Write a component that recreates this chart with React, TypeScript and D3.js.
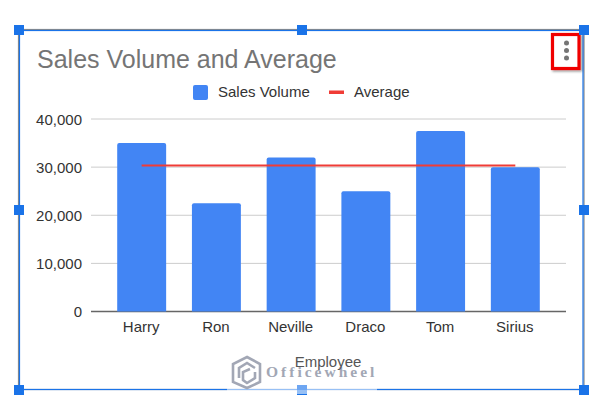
import * as d3 from 'd3';

const employees = ['Harry', 'Ron', 'Neville', 'Draco', 'Tom', 'Sirius'];
const salesVolume = [35000, 22500, 32000, 25000, 37500, 30000];
const average = [30333, 30333, 30333, 30333, 30333, 30333];
const yTicks = [0, 10000, 20000, 30000, 40000];

const FONT = '"Liberation Sans", Arial, sans-serif';
const BLUE = '#4285f4';
const RED = '#f03c36';
const HANDLE = '#1a73e8';

const width = 604,
    height = 410;

const PLOT = { left: 91, right: 566, top: 119, bottom: 311.5 };

// corner and middle handles of the selected chart frame
const handleXs = [19, 302, 584];
const handleYs = [30, 210, 390];

export default function App() {
    const xScale = d3
        .scaleBand()
        .domain(employees)
        .range([104.5, 552.5])
        .paddingInner(0.345)
        .paddingOuter(0.17);
    const yScale = d3.scaleLinear().domain([0, 40000]).range([PLOT.bottom, PLOT.top]);
    const xCenter = (name: string) => (xScale(name) ?? 0) + xScale.bandwidth() / 2;

    // Build the line
    const linePath = d3
        .line<number>()
        .x((_, i) => xCenter(employees[i]))
        .y((d) => yScale(d))(average);

    const format = d3.format(',');

    return (
        <svg
            width={width}
            height={height}
            style={{ position: 'absolute', left: 0, top: 0, background: '#fff' }}
            fontFamily={FONT}
        >
            <defs>
                <filter id="boxShadow" x="-30%" y="-30%" width="170%" height="170%">
                    <feDropShadow dx="1.5" dy="1.5" stdDeviation="1" floodColor="#000" floodOpacity="0.4" />
                </filter>
            </defs>

            {/* chart frame */}
            <rect x={18.5} y={29.5} width={565.5} height={360} fill="none" stroke="#8a8a8a" strokeWidth={1.2} />
            <rect x={19.5} y={30.5} width={563.5} height={359} fill="none" stroke={HANDLE} strokeWidth={1.2} />

            <text x={37} y={68} fontSize={25} fill="#757575">
                Sales Volume and Average
            </text>

            {/* legend */}
            <rect x={193} y={85} width={15} height={15} rx={2} fill={BLUE} />
            <text x={218} y={97} fontSize={15} fill="#333">
                Sales Volume
            </text>
            <rect x={329} y={90.5} width={15} height={3.5} fill={RED} />
            <text x={354} y={97} fontSize={15} fill="#333">
                Average
            </text>

            {/* grid and y labels */}
            {yTicks.map((t) => (
                <g key={t}>
                    <line
                        x1={PLOT.left}
                        x2={PLOT.right}
                        y1={yScale(t)}
                        y2={yScale(t)}
                        stroke={t === 0 ? '#666' : '#ccc'}
                        strokeWidth={t === 0 ? 1.3 : 1}
                    />
                    <text x={82} y={yScale(t) + 5.5} textAnchor="end" fontSize={15} fill="#333">
                        {format(t)}
                    </text>
                </g>
            ))}

            {/* bars */}
            {employees.map((name, i) => {
                const x = xScale(name) ?? 0;
                const y = yScale(salesVolume[i]);
                const w = xScale.bandwidth();
                const base = yScale(0);
                return (
                    <path
                        key={name}
                        d={`M${x},${base}V${y + 2}Q${x},${y} ${x + 2},${y}H${x + w - 2}Q${x + w},${y} ${x + w},${y + 2}V${base}Z`}
                        fill={BLUE}
                    />
                );
            })}

            {linePath && <path d={linePath} fill="none" stroke={RED} strokeWidth={2} />}

            {employees.map((name) => (
                <text key={name} x={xCenter(name) - 0.5} y={332} textAnchor="middle" fontSize={15} fill="#333">
                    {name}
                </text>
            ))}

            {/* kebab menu with the red callout */}
            <rect
                x={552.5}
                y={34.5}
                width={26.5}
                height={34}
                fill="#fff"
                stroke="#f00000"
                strokeWidth={3.2}
                filter="url(#boxShadow)"
            />
            {[43, 50.5, 58].map((cy) => (
                <circle key={cy} cx={566.5} cy={cy} r={2.5} fill="#757575" />
            ))}

            {/* handles */}
            {handleYs.map((hy, row) =>
                handleXs
                    .filter((_, col) => !(row === 1 && col === 1))
                    .map((hx) => <rect key={`${hx}-${hy}`} x={hx - 5} y={hy - 5} width={10} height={10} fill={HANDLE} />),
            )}

            {/* watermark */}
            <g>
                <rect x={227} y={352} width={150} height={42} fill="#fff" fillOpacity={0.55} />
                <g fill="none" stroke="#a2a7b5" strokeWidth={2.6}>
                    <path d="M247,357L260,364V382L247,388L233,382V364Z" />
                    <path d="M239,378V368L247,363L255,368M255,372V378L247,383L243,380V372L250,369" />
                </g>
                <text x={266} y={377} fontFamily='"Liberation Serif", serif' fontSize={15.5} fontWeight={700} letterSpacing={3} fill="#a2a7b5">
                    Officewheel
                </text>
                <rect x={297} y={385} width={10} height={5} fill="#6ea6f2" />
            </g>

            <text x={328} y={367} textAnchor="middle" fontSize={15} fill="#555">
                Employee
            </text>
        </svg>
    );
}
